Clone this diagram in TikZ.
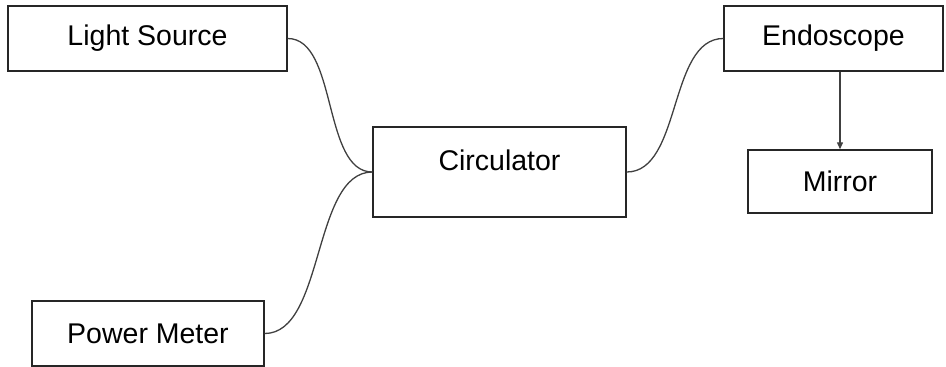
\documentclass[tikz,border=0pt]{standalone}
\usepackage{fontspec}
\setmainfont{Liberation Sans}
\usetikzlibrary{arrows.meta}
\begin{document}
\begin{tikzpicture}[x=1pt,y=-1pt,
  box/.style={draw=black!85, line width=1.4pt, fill=white, inner sep=0pt, font=\fontsize{28.5}{32}\selectfont},
  wire/.style={draw=black!75, line width=1.3pt},
  lbl/.style={inner sep=0pt, font=\fontsize{28.5}{32}\selectfont}]
\useasboundingbox (0,0) rectangle (946,367);
\node[box, minimum width=279, minimum height=65] (ls) at (147.5,38.5) {Light Source};
\node[box, minimum width=232, minimum height=65] (pm) at (148,333.5) {Power Meter};
\node[box, minimum width=253, minimum height=90] (circ) at (499.5,172) {};
\node[lbl] (circt) at (499.5,160) {Circulator};
\node[box, minimum width=219, minimum height=65] (endo) at (833.5,38.5) {Endoscope};
\node[box, minimum width=184, minimum height=63] (mir) at (840,181.5) {Mirror};
\draw[wire] (ls.east) .. controls +(50,0) and +(-50,0) .. (circ.west);
\draw[wire] (pm.east) .. controls +(60,0) and +(-60,0) .. (circ.west);
\draw[wire] (circ.east) .. controls +(55,0) and +(-55,0) .. (endo.west);
\draw[wire, -{Triangle[length=7pt,width=6pt]}] (endo.south -| mir.north) -- (mir.north);
\end{tikzpicture}
\end{document}
